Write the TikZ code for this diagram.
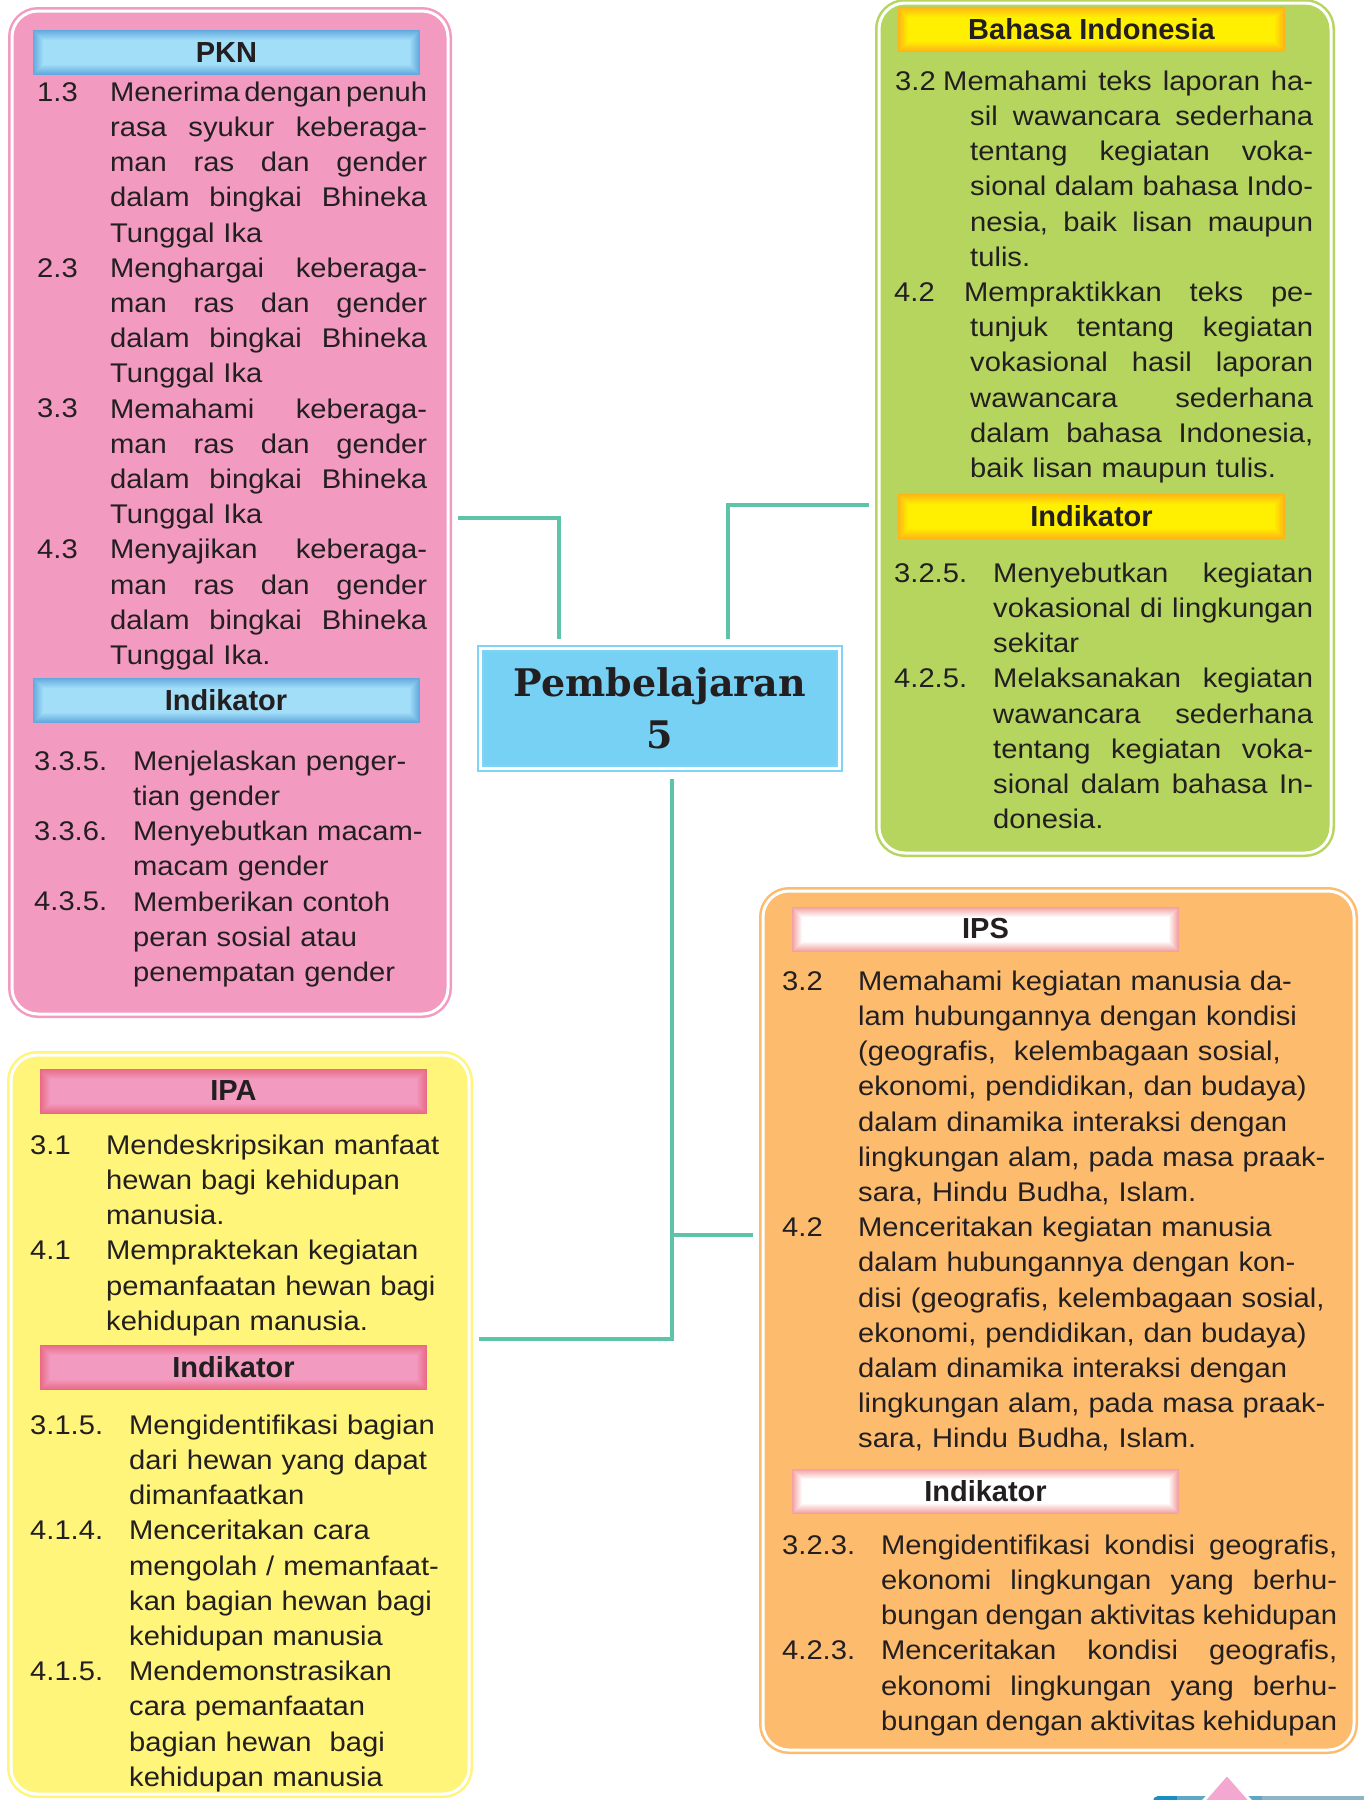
\documentclass[tikz,border=0pt]{standalone}
\usepackage{fontspec}
\setmainfont{Liberation Sans}
\newfontfamily\bodyfont{Liberation Sans}[FakeStretch=1.08]
\newfontfamily\titlefont{DejaVu Serif}

\definecolor{ink}{HTML}{231F20}
\definecolor{linkteal}{HTML}{5EC4A9}
\definecolor{pknpink}{HTML}{F39AC1}
\definecolor{bigreen}{HTML}{B5D55E}
\definecolor{ipayellow}{HTML}{FFF57B}
\definecolor{ipsorange}{HTML}{FDBB6E}
\definecolor{titleblue}{HTML}{76D1F5}
\definecolor{titleline}{HTML}{7FD4F6}
\definecolor{skyin}{HTML}{A2DEF8}
\definecolor{skyout}{HTML}{63A9DE}
\definecolor{sunin}{HTML}{FFEF00}
\definecolor{sunout}{HTML}{FDB515}
\definecolor{rosein}{HTML}{F29AC0}
\definecolor{roseout}{HTML}{E96A86}
\definecolor{snowin}{HTML}{FFFFFF}
\definecolor{snowout}{HTML}{F3A0A0}
\definecolor{decodark}{HTML}{1A8DC1}
\definecolor{decomid}{HTML}{5FA7C4}
\definecolor{decolight}{HTML}{8DB5C7}
\definecolor{decopink}{HTML}{F4A8CF}

\newcommand\bodytext{\bodyfont\fontsize{27pt}{35.2pt}\selectfont}
\newcommand\rowwd{300pt}
% one justified line / one ragged line
\newcommand\jline[2][0pt]{\noindent\hbox to\rowwd{\frenchspacing
    \spaceskip=\fontdimen2\font plus 1fil minus .8\fontdimen2\font
    \hskip#1\strut#2}\par}
\newcommand\rline[2][0pt]{\noindent\hbox{\hskip#1\strut#2}\par}

\begin{document}
\begin{tikzpicture}[x=1pt, y=-1pt,
    panel/.style={rounded corners=26pt, draw=#1, fill=#1, double=white,
      double distance=3pt, line width=2.5pt, outer sep=10pt, inner sep=0pt},
    titlebox/.style={draw=titleline, double=white, double distance=3pt,
      line width=2pt, fill=titleblue, minimum width=359pt, minimum height=120pt,
      outer sep=10pt, align=center, text=ink,
      font=\titlefont\bfseries\fontsize{38pt}{52pt}\selectfont},
    headbar/.style 2 args={minimum width=387pt, minimum height=45pt,
      inner sep=0pt, fill=#2, text=ink,
      font=\bfseries\fontsize{29pt}{34pt}\selectfont,
      path picture={
        \foreach \k in {1,...,10}
          \fill[#1!\k0!#2]
            ([xshift=\k pt,yshift=-\k pt]path picture bounding box.north west)
            rectangle ([xshift=-\k pt,yshift=\k pt]path picture bounding box.south east);
      }},
    numtag/.style={anchor=base west, inner sep=0pt, font=\bodytext, text=ink},
    itemtxt/.style={anchor=north west, yshift=24.64pt, inner sep=0pt,
      text width=#1, font=\bodytext, text=ink,
      execute at begin node={\def\rowwd{#1}}},
    link/.style={draw=linkteal, line width=4pt}]

  \useasboundingbox (0,0) rectangle (1364,1800);
  \fill[white] (0,0) rectangle (1364,1800);

  % panels
  \node[panel=pknpink, minimum width=436pt, minimum height=1003pt] (pkn) at (230,512.5) {};
  \node[panel=bigreen, minimum width=452pt, minimum height=850pt] (bind) at (1105,428) {};
  \node[panel=ipayellow, minimum width=458pt, minimum height=739pt] (ipa) at (240,1424.5) {};
  \node[panel=ipsorange, minimum width=591pt, minimum height=859pt] (ips) at (1058.5,1320.5) {};
  \node[titlebox] (title) at (660,708.5) {Pembelajaran\\5};

  % connectors
  \draw[link] ([yshift=-5pt]pkn.east) -| ([xshift=-101pt]title.north);
  \draw[link] ([yshift=-77pt]bind.west) -| ([xshift=68pt]title.north);
  \draw[link] ([xshift=12pt]title.south) |- ([yshift=85.5pt]ipa.east);
  \coordinate (ipsin) at ([yshift=85.5pt]ips.west);
  \draw[link] (ipsin) -| ([xshift=12pt]title.south);

  % PKN
  \node[headbar={skyin}{skyout}] (pknhead) at (226.5,52.5) {PKN};
  \node[numtag] (pkn13n) at (37,101) {1.3};
  \node[itemtxt=317pt] (pkn13) at (110,101) {\jline{Menerima dengan penuh}\jline{rasa syukur keberaga-}\jline{man ras dan gender}\jline{dalam bingkai Bhineka}\rline{Tunggal Ika}};
  \node[numtag] (pkn23n) at (37,277) {2.3};
  \node[itemtxt=317pt] (pkn23) at (110,277) {\jline{Menghargai keberaga-}\jline{man ras dan gender}\jline{dalam bingkai Bhineka}\rline{Tunggal Ika}};
  \node[numtag] (pkn33n) at (37,417.8) {3.3};
  \node[itemtxt=317pt] (pkn33) at (110,417.8) {\jline{Memahami keberaga-}\jline{man ras dan gender}\jline{dalam bingkai Bhineka}\rline{Tunggal Ika}};
  \node[numtag] (pkn43n) at (37,558.6) {4.3};
  \node[itemtxt=317pt] (pkn43) at (110,558.6) {\jline{Menyajikan keberaga-}\jline{man ras dan gender}\jline{dalam bingkai Bhineka}\rline{Tunggal Ika.}};
  \node[headbar={skyin}{skyout}] (pknind) at (226,700.5) {Indikator};
  \node[numtag] (pkn335n) at (34,770) {3.3.5.};
  \node[itemtxt=300pt] (pkn335) at (133,770) {\rline{Menjelaskan penger-}\rline{tian gender}};
  \node[numtag] (pkn336n) at (34,840.4) {3.3.6.};
  \node[itemtxt=300pt] (pkn336) at (133,840.4) {\rline{Menyebutkan macam-}\rline{macam gender}};
  \node[numtag] (pkn435n) at (34,910.8) {4.3.5.};
  \node[itemtxt=300pt] (pkn435) at (133,910.8) {\rline{Memberikan contoh}\rline{peran sosial atau}\rline{penempatan gender}};

  % Bahasa Indonesia
  \node[headbar={sunin}{sunout}] (bindhead) at (1091.5,29.5) {Bahasa Indonesia};
  \node[numtag] (bind32n) at (895,90) {3.2};
  \node[itemtxt=343pt] (bind32) at (970,90) {\jline[-27pt]{Memahami teks laporan ha-}\jline{sil wawancara sederhana}\jline{tentang kegiatan voka-}\jline{sional dalam bahasa Indo-}\jline{nesia, baik lisan maupun}\rline{tulis.}};
  \node[numtag] (bind42n) at (894,301.2) {4.2};
  \node[itemtxt=343pt] (bind42) at (970,301.2) {\jline[-6pt]{Mempraktikkan teks pe-}\jline{tunjuk tentang kegiatan}\jline{vokasional hasil laporan}\jline{wawancara sederhana}\jline{dalam bahasa Indonesia,}\rline{baik lisan maupun tulis.}};
  \node[headbar={sunin}{sunout}] (bindind) at (1091.5,516.5) {Indikator};
  \node[numtag] (bind325n) at (894,582) {3.2.5.};
  \node[itemtxt=320pt] (bind325) at (993,582) {\jline{Menyebutkan kegiatan}\jline{vokasional di lingkungan}\rline{sekitar}};
  \node[numtag] (bind425n) at (894,687.6) {4.2.5.};
  \node[itemtxt=320pt] (bind425) at (993,687.6) {\jline{Melaksanakan kegiatan}\jline{wawancara sederhana}\jline{tentang kegiatan voka-}\jline{sional dalam bahasa In-}\rline{donesia.}};

  % IPA
  \node[headbar={rosein}{roseout}] (ipahead) at (233.5,1091) {IPA};
  \node[numtag] (ipa31n) at (30,1154) {3.1};
  \node[itemtxt=345pt] (ipa31) at (106,1154) {\rline{Mendeskripsikan manfaat}\rline{hewan bagi kehidupan}\rline{manusia.}};
  \node[numtag] (ipa41n) at (30,1259.6) {4.1};
  \node[itemtxt=345pt] (ipa41) at (106,1259.6) {\rline{Mempraktekan kegiatan}\rline{pemanfaatan hewan bagi}\rline{kehidupan manusia.}};
  \node[headbar={rosein}{roseout}] (ipaind) at (233.5,1367.5) {Indikator};
  \node[numtag] (ipa315n) at (30,1434) {3.1.5.};
  \node[itemtxt=330pt] (ipa315) at (129,1434) {\rline{Mengidentifikasi bagian}\rline{dari hewan yang dapat}\rline{dimanfaatkan}};
  \node[numtag] (ipa414n) at (30,1539.6) {4.1.4.};
  \node[itemtxt=330pt] (ipa414) at (129,1539.6) {\rline{Menceritakan cara}\rline{mengolah / memanfaat-}\rline{kan bagian hewan bagi}\rline{kehidupan manusia}};
  \node[numtag] (ipa415n) at (30,1680.4) {4.1.5.};
  \node[itemtxt=330pt] (ipa415) at (129,1680.4) {\rline{Mendemonstrasikan}\rline{cara pemanfaatan}\rline{bagian hewan\ \ bagi}\rline{kehidupan manusia}};

  % IPS
  \node[headbar={snowin}{snowout}] (ipshead) at (985.5,929) {IPS};
  \node[numtag] (ips32n) at (782,990) {3.2};
  \node[itemtxt=480pt] (ips32) at (858,990) {\rline{Memahami kegiatan manusia da-}\rline{lam hubungannya dengan kondisi}\rline{(geografis,\ \ kelembagaan sosial,}\rline{ekonomi, pendidikan, dan budaya)}\rline{dalam dinamika interaksi dengan}\rline{lingkungan alam, pada masa praak-}\rline{sara, Hindu Budha, Islam.}};
  \node[numtag] (ips42n) at (782,1236.4) {4.2};
  \node[itemtxt=480pt] (ips42) at (858,1236.4) {\rline{Menceritakan kegiatan manusia}\rline{dalam hubungannya dengan kon-}\rline{disi (geografis, kelembagaan sosial,}\rline{ekonomi, pendidikan, dan budaya)}\rline{dalam dinamika interaksi dengan}\rline{lingkungan alam, pada masa praak-}\rline{sara, Hindu Budha, Islam.}};
  \node[headbar={snowin}{snowout}] (ipsind) at (985.5,1491) {Indikator};
  \node[numtag] (ips323n) at (782,1554) {3.2.3.};
  \node[itemtxt=456pt] (ips323) at (881,1554) {\jline{Mengidentifikasi kondisi geografis,}\jline{ekonomi lingkungan yang berhu-}\jline{bungan dengan aktivitas kehidupan}};
  \node[numtag] (ips423n) at (782,1659.6) {4.2.3.};
  \node[itemtxt=456pt] (ips423) at (881,1659.6) {\jline{Menceritakan kondisi geografis,}\jline{ekonomi lingkungan yang berhu-}\jline{bungan dengan aktivitas kehidupan}};

  % page mark, bottom right
  \fill[decodark, rounded corners=5pt] (1153,1796) rectangle (1200,1815);
  \fill[decomid] (1177,1796) rectangle (1262,1815);
  \fill[decolight] (1262,1796) rectangle (1364,1815);
  \filldraw[fill=decopink, draw=white, line width=3pt] (1227,1774) -- (1263,1815) -- (1191,1815) -- cycle;
\end{tikzpicture}
\end{document}
